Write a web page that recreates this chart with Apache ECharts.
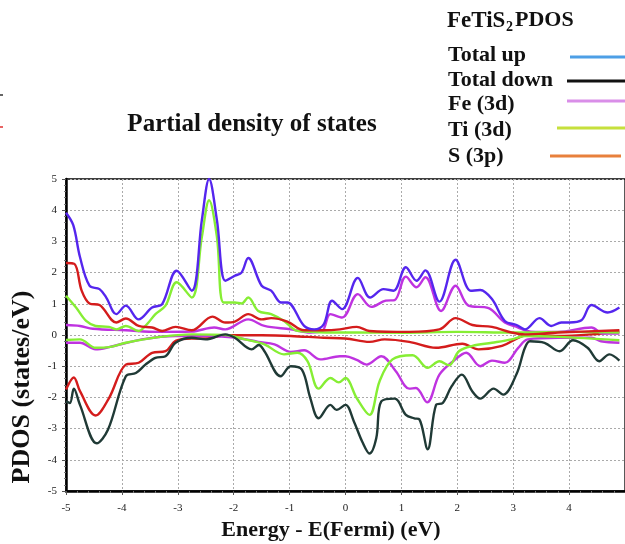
<!DOCTYPE html>
<html>
<head>
<meta charset="utf-8">
<script src="https://cdn.jsdelivr.net/npm/echarts@6/dist/echarts.min.js"></script>
<style>
    html, body { margin: 0; padding: 0; background: #fff; }
    #chart { width: 625px; height: 544px; }
</style>
</head>
<body>
<div id="chart"></div>
<script>
// axis ticks
const xTicks = [-5, -4, -3, -2, -1, 0, 1, 2, 3, 4, 5]
const yTicks = [-5, -4, -3, -2, -1, 0, 1, 2, 3, 4, 5]

// spin up
const totalUpX = [-5.0, -4.87, -4.75, -4.58, -4.4, -4.28, -4.1, -3.93, -3.7, -3.46, -3.28, -3.02, -2.75, -2.57, -2.44, -2.3, -2.15, -1.98, -1.86, -1.74, -1.5, -1.33, -1.15, -1.04, -0.74, -0.56, -0.39, -0.24, -0.06, 0.22, 0.44, 0.68, 0.86, 1.08, 1.27, 1.43, 1.68, 1.97, 2.24, 2.41, 2.62, 2.85, 3.06, 3.21, 3.47, 3.68, 3.86, 4.01, 4.22, 4.4, 4.69, 4.9]
const totalUpY = [3.92, 3.52, 2.5, 1.58, 1.47, 1.2, 0.67, 0.94, 0.5, 0.88, 0.99, 2.06, 1.42, 3.68, 5.0, 3.68, 1.74, 1.9, 2.0, 2.47, 1.58, 1.42, 1.04, 1.04, 0.29, 0.18, 0.34, 1.1, 0.83, 1.83, 1.2, 1.47, 1.42, 2.17, 1.74, 2.07, 1.07, 2.41, 1.42, 1.44, 1.15, 0.45, 0.32, 0.18, 0.54, 0.29, 0.4, 0.4, 0.47, 0.96, 0.72, 0.88]

const tiUpX = [-5.0, -4.82, -4.64, -4.47, -4.23, -4.1, -3.93, -3.7, -3.55, -3.4, -3.22, -3.02, -2.75, -2.57, -2.44, -2.3, -2.18, -1.98, -1.86, -1.74, -1.56, -1.33, -1.1, -0.86, -0.6, -0.3, 0.2, 1.0, 2.0, 3.0, 4.0, 4.9]
const tiUpY = [1.26, 0.88, 0.45, 0.29, 0.26, 0.18, 0.29, 0.13, 0.35, 0.67, 0.94, 1.69, 1.2, 3.14, 4.32, 3.14, 1.04, 1.04, 1.01, 1.2, 0.77, 0.67, 0.45, 0.13, 0.1, 0.08, 0.08, 0.07, 0.1, 0.08, 0.1, 0.08]

const feUpX = [-5.0, -4.75, -4.52, -3.93, -3.35, -2.75, -2.35, -2.15, -1.74, -1.45, -0.98, -0.63, -0.42, -0.27, -0.06, 0.22, 0.46, 0.72, 0.88, 1.08, 1.27, 1.43, 1.71, 1.97, 2.2, 2.56, 2.85, 3.09, 3.21, 3.4, 3.8, 4.4, 4.6, 4.9]
const feUpY = [0.32, 0.29, 0.2, 0.15, 0.1, 0.11, 0.24, 0.18, 0.5, 0.29, 0.18, 0.08, 0.12, 0.67, 0.56, 1.31, 0.9, 1.1, 1.12, 1.87, 1.53, 1.85, 0.77, 1.58, 0.94, 0.86, 0.4, 0.24, 0.15, 0.1, 0.1, 0.24, 0.05, 0.05]

const sUpX = [-5.0, -4.85, -4.72, -4.58, -4.4, -4.1, -3.93, -3.7, -3.46, -3.28, -3.04, -2.75, -2.38, -2.15, -1.98, -1.74, -1.5, -1.33, -1.04, -0.74, -0.39, -0.1, 0.2, 0.43, 1.14, 1.68, 1.97, 2.27, 2.62, 2.97, 3.21, 3.8, 4.9]
const sUpY = [2.31, 2.28, 1.42, 1.01, 0.96, 0.4, 0.53, 0.29, 0.24, 0.13, 0.26, 0.15, 0.59, 0.4, 0.43, 0.67, 0.5, 0.54, 0.43, 0.15, 0.15, 0.18, 0.26, 0.13, 0.1, 0.18, 0.54, 0.32, 0.26, 0.08, 0.02, 0.08, 0.15]

// spin down
const totalDownX = [-5.0, -4.93, -4.86, -4.75, -4.45, -4.25, -3.93, -3.75, -3.58, -3.4, -3.22, -3.04, -2.75, -2.5, -2.15, -1.98, -1.68, -1.55, -1.45, -1.16, -0.98, -0.78, -0.63, -0.48, -0.27, -0.16, 0.0, 0.15, 0.3, 0.43, 0.55, 0.64, 0.88, 1.08, 1.23, 1.32, 1.47, 1.62, 1.74, 1.9, 2.08, 2.27, 2.41, 2.65, 2.82, 3.06, 3.21, 3.3, 3.56, 3.83, 4.07, 4.33, 4.54, 4.72, 4.9]
const totalDownY = [-2.13, -2.18, -1.72, -2.24, -3.47, -3.04, -1.32, -1.22, -0.95, -0.73, -0.68, -0.25, -0.09, -0.14, 0.02, -0.09, -0.46, -0.32, -0.52, -1.32, -1.0, -1.11, -2.02, -2.67, -2.24, -2.4, -2.24, -2.77, -3.42, -3.8, -3.31, -2.13, -2.04, -2.56, -2.67, -2.7, -3.66, -2.24, -2.18, -1.64, -1.27, -1.81, -2.04, -1.72, -1.91, -1.25, -0.41, -0.2, -0.25, -0.52, -0.17, -0.41, -0.84, -0.62, -0.82]

const sDownX = [-5.0, -4.86, -4.75, -4.47, -4.23, -3.93, -3.7, -3.46, -3.22, -3.04, -2.75, -2.5, -2.15, -1.5, -0.98, -0.39, 0.0, 0.43, 0.7, 1.14, 1.62, 2.09, 2.38, 2.8, 3.09, 3.3, 3.8, 4.4, 4.9]
const sDownY = [-1.75, -1.36, -1.8, -2.58, -2.02, -0.95, -0.89, -0.57, -0.52, -0.19, -0.11, -0.11, -0.01, -0.01, -0.03, -0.09, -0.11, -0.22, -0.14, -0.22, -0.41, -0.28, -0.46, -0.35, -0.09, 0.02, -0.03, 0.02, 0.11]

const tiDownX = [-5.0, -4.75, -4.47, -4.23, -3.93, -3.35, -2.75, -2.15, -1.8, -1.45, -1.1, -0.86, -0.68, -0.48, -0.27, -0.12, 0.0, 0.2, 0.43, 0.61, 0.84, 1.2, 1.47, 1.68, 1.85, 2.03, 2.27, 2.62, 2.97, 3.21, 3.8, 4.9]
const tiDownY = [-0.16, -0.14, -0.41, -0.39, -0.25, -0.07, 0.02, 0.0, -0.14, -0.3, -0.62, -0.57, -0.84, -1.72, -1.38, -1.52, -1.38, -2.02, -2.56, -1.48, -0.78, -0.65, -1.05, -0.84, -0.97, -0.52, -0.35, -0.25, -0.14, -0.03, -0.06, -0.17]

const feDownX = [-5.0, -4.75, -4.47, -4.23, -3.64, -3.04, -2.45, -1.98, -1.56, -1.27, -0.98, -0.74, -0.45, -0.1, 0.0, 0.2, 0.38, 0.64, 0.9, 1.14, 1.26, 1.46, 1.68, 1.94, 2.16, 2.41, 2.62, 2.85, 3.09, 3.26, 3.8, 4.4, 4.57, 4.9]
const feDownY = [-0.25, -0.25, -0.46, -0.39, -0.14, -0.03, -0.03, -0.08, -0.22, -0.3, -0.54, -0.49, -0.78, -0.68, -0.68, -0.8, -0.95, -0.68, -1.16, -1.72, -1.7, -2.16, -1.27, -0.82, -0.57, -1.0, -0.82, -0.89, -0.41, -0.14, -0.09, -0.09, -0.2, -0.25]

// legend entries (as printed in the figure)
const legendNames = ['Total up', 'Total down', 'Fe (3d)', 'Ti (3d)', 'S (3p)']
const legendColors = ['#4d9fe6', '#111111', '#d98ee8', '#c6e03c', '#e8803c']

const SERIF = '"Liberation Serif", "Times New Roman", serif'

const pairs = (xs, ys) => xs.map((x, i) => [x, ys[i]])

const chart = echarts.init(document.getElementById('chart'))

const lineSeries = (name, xs, ys, color) => ({
    name: name,
    type: 'line',
    data: pairs(xs, ys),
    smooth: 0.35,
    showSymbol: false,
    clip: true,
    lineStyle: { color: color, width: 2.4 },
    itemStyle: { color: color }
})

// legend drawn by hand, the colours in it don't match the curves
const legendRows = [
    { y: 55, line: [570, 625, 57] },
    { y: 80, line: [567, 625, 81] },
    { y: 104, line: [567, 625, 101] },
    { y: 130, line: [557, 625, 128] },
    { y: 156, line: [550, 621, 156] }
]
const legendGraphics = []
legendRows.forEach((row, i) => {
    legendGraphics.push({
        type: 'text',
        style: {
            text: legendNames[i], x: 448, y: row.y,
            font: 'bold 22px ' + SERIF, fill: '#111',
            textAlign: 'left', textVerticalAlign: 'middle'
        }
    })
    legendGraphics.push({
        type: 'line',
        shape: { x1: row.line[0], y1: row.line[2], x2: row.line[1], y2: row.line[2] },
        style: { stroke: legendColors[i], lineWidth: 3 }
    })
})

const option = {
    backgroundColor: '#fff',
    animation: false,
    grid: {
        left: 66,
        top: 179,
        width: 565,
        height: 312,
        show: true,
        borderColor: '#000',
        borderWidth: 1.3
    },
    xAxis: {
        type: 'value',
        min: xTicks[0],
        max: xTicks[xTicks.length - 1],
        interval: 1,
        axisLine: { show: true, onZero: false, lineStyle: { color: '#000', width: 2.5 } },
        axisTick: { show: true, length: 4, lineStyle: { color: '#555' } },
        minorTick: { show: true, splitNumber: 5, length: 2, lineStyle: { color: '#777' } },
        axisLabel: { margin: 12, color: '#222', fontSize: 11, fontFamily: SERIF, showMaxLabel: false },
        splitLine: { show: true, lineStyle: { color: '#aaa', type: [2, 2], width: 1 } }
    },
    yAxis: {
        type: 'value',
        min: yTicks[0],
        max: yTicks[yTicks.length - 1],
        interval: 1,
        axisLine: { show: true, onZero: false, lineStyle: { color: '#000', width: 2.5 } },
        axisTick: { show: true, length: 4, lineStyle: { color: '#555' } },
        minorTick: { show: true, splitNumber: 5, length: 2, lineStyle: { color: '#777' } },
        axisLabel: { margin: 9, color: '#222', fontSize: 11, fontFamily: SERIF },
        splitLine: { show: true, lineStyle: { color: '#aaa', type: [2, 2], width: 1 } }
    },
    series: [
        lineSeries('S (3p) down', sDownX, sDownY, '#d41c1c'),
        lineSeries('Fe (3d) down', feDownX, feDownY, '#bf33e0'),
        lineSeries('Ti (3d) down', tiDownX, tiDownY, '#86ee34'),
        lineSeries('Total down', totalDownX, totalDownY, '#203a36'),
        lineSeries('Fe (3d) up', feUpX, feUpY, '#bf33e0'),
        lineSeries('Ti (3d) up', tiUpX, tiUpY, '#86ee34'),
        lineSeries('S (3p) up', sUpX, sUpY, '#d41c1c'),
        lineSeries('Total up', totalUpX, totalUpY, '#5526ee')
    ],
    graphic: [
        {
            type: 'text',
            style: {
                text: 'Partial density of states', x: 252, y: 125,
                font: 'bold 25px ' + SERIF, fill: '#111',
                textAlign: 'center', textVerticalAlign: 'middle'
            }
        },
        {
            type: 'text',
            style: {
                text: 'Energy - E(Fermi) (eV)', x: 331, y: 530,
                font: 'bold 22px ' + SERIF, fill: '#111',
                textAlign: 'center', textVerticalAlign: 'middle'
            }
        },
        {
            type: 'text',
            x: 22, y: 387, rotation: Math.PI / 2,
            style: {
                text: 'PDOS (states/eV)', x: 0, y: 0,
                font: 'bold 26px ' + SERIF, fill: '#111',
                textAlign: 'center', textVerticalAlign: 'middle'
            }
        },
        // heading of the legend, FeTiS2 with subscript
        {
            type: 'text',
            style: { text: 'FeTiS', x: 447, y: 21, font: 'bold 23px ' + SERIF, fill: '#111', textAlign: 'left', textVerticalAlign: 'middle' }
        },
        {
            type: 'text',
            style: { text: '2', x: 506, y: 27, font: 'bold 14px ' + SERIF, fill: '#111', textAlign: 'left', textVerticalAlign: 'middle' }
        },
        {
            type: 'text',
            style: { text: 'PDOS', x: 515, y: 20, font: 'bold 22px ' + SERIF, fill: '#111', textAlign: 'left', textVerticalAlign: 'middle' }
        },
        // cut off marks at the left edge
        { type: 'line', shape: { x1: 0, y1: 95, x2: 3, y2: 95 }, style: { stroke: '#333', lineWidth: 1.5 } },
        { type: 'line', shape: { x1: 0, y1: 127, x2: 3, y2: 127 }, style: { stroke: '#e03030', lineWidth: 1.5 } }
    ].concat(legendGraphics)
}

chart.setOption(option)
</script>
</body>
</html>
